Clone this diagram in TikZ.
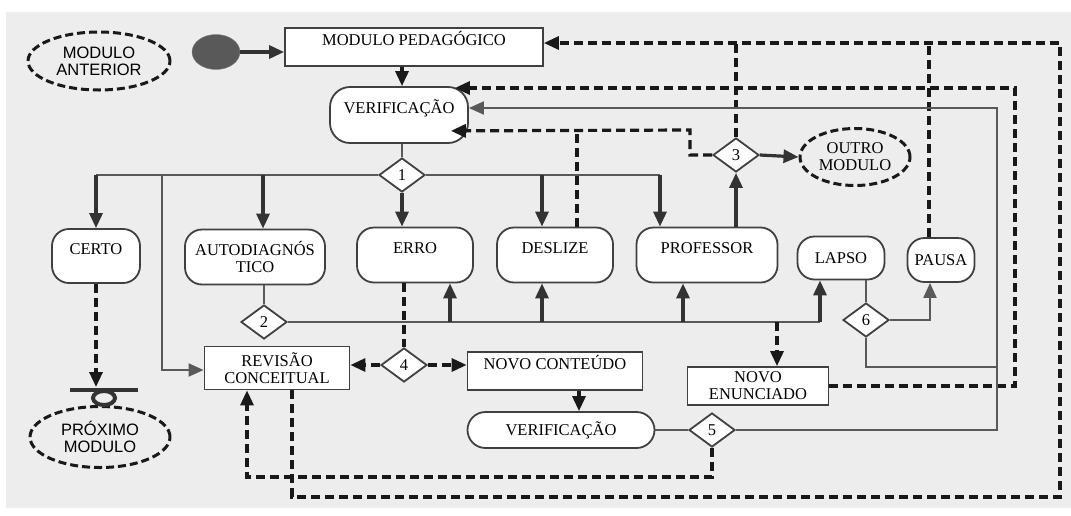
\documentclass[tikz,border=0pt]{standalone}
\usepackage{fontspec}
\setmainfont{Liberation Serif}
\setsansfont{Liberation Sans}
\usetikzlibrary{arrows.meta}
\usetikzlibrary{shapes.geometric,positioning}

\begin{document}
\begin{tikzpicture}[x=1pt, y=-1pt, font=\fontsize{16.5}{17}\selectfont]
    \tikzstyle{ponta} = [-{Triangle[length=15pt,width=13pt]}]
    \tikzstyle{seta} = [line width=3.2pt, black!80, ponta]
    \tikzstyle{tracejada} = [line width=3.2pt, black!90, dash pattern=on 9pt off 5pt]
    \tikzstyle{linha} = [line width=2pt, black!65]
    \tikzstyle{caixa} = [draw=black!75, line width=1.8pt, fill=white, align=center]
    \tikzstyle{arred} = [caixa, rounded corners=17pt]
    \tikzstyle{losango} = [caixa, diamond, aspect=1.35, inner sep=0pt, minimum width=46, minimum height=34]
    \tikzstyle{elipse} = [draw=black!90, line width=3pt, dash pattern=on 8pt off 4pt, ellipse, align=center, inner sep=0pt]
    \tikzstyle{sobe} = [text height=11pt, text depth=15pt]
    \tikzstyle{semserifa} = [font=\sffamily\fontsize{16.5}{17}\selectfont]

    \useasboundingbox (0,0) rectangle (1071,515);
    \fill[black!7] (6,12) rectangle (1071,508);

    % nos
    \node[elipse, semserifa, minimum width=142, minimum height=58] (anterior) at (99,61) {MODULO\\ANTERIOR};
    \node[ellipse, fill=black!65, draw=black!50, minimum width=48, minimum height=35, inner sep=0pt] (inicio) at (216,52) {};
    \node[caixa, sobe, minimum width=258, minimum height=38] (pedagogico) at (414,47) {MODULO PEDAGÓGICO};
    \node[arred, sobe, rounded corners=20pt, minimum width=138, minimum height=56] (verif) at (399,115) {VERIFICAÇÃO};
    \node[losango] (d1) at (402,175) {1};
    \node[arred, sobe, minimum width=88, minimum height=54] (certo) at (96,256) {CERTO};
    \node[arred, minimum width=140, minimum height=55] (auto) at (255,257) {AUTODIAGNÓS\\TICO};
    \node[arred, sobe, minimum width=116, minimum height=55] (erro) at (415,255) {ERRO};
    \node[arred, sobe, minimum width=116, minimum height=55] (deslize) at (555,255) {DESLIZE};
    \node[arred, sobe, minimum width=141, minimum height=55] (professor) at (707,255) {PROFESSOR};
    \node[arred, minimum width=87, minimum height=43] (lapso) at (841,258) {LAPSO};
    \node[arred, inner xsep=1pt, minimum width=67, minimum height=44] (pausa) at (941,260) {PAUSA};
    \node[losango] (d2) at (264,322) {2};
    \node[losango] (d3) at (736,155) {3};
    \node[elipse, minimum width=110, minimum height=57] (outro) at (855,157) {OUTRO\\MODULO};
    \node[losango] (d6) at (866,320) {6};
    \node[caixa, minimum width=145, minimum height=43] (revisao) at (277,368) {REVISÃO\\CONCEITUAL};
    \node[losango] (d4) at (404,365) {4};
    \node[caixa, sobe, minimum width=175, minimum height=38] (conteudo) at (555,371) {NOVO CONTEÚDO};
    \node[arred, rounded corners=18pt, minimum width=187, minimum height=36] (verif2) at (561,430) {VERIFICAÇÃO};
    \node[losango] (d5) at (712,430) {5};
    \node[caixa, minimum width=141, minimum height=38] (enunciado) at (758,386) {NOVO\\ENUNCIADO};
    \node[elipse, semserifa, minimum width=140, minimum height=61] (proximo) at (100,437) {PRÓXIMO\\MODULO};

    % conector de saida
    \coordinate (barra) at (104,390);
    \draw[line width=4.5pt, black!80] (70,390) -- (138,390);
    \draw[line width=4pt, black!80] (104,398) ellipse [x radius=11, y radius=7];

    % pontos de passagem
    \coordinate (r1) at (162,175);
    \coordinate (c1) at (1060,497);
    \coordinate (c2) at (1060,43);
    \coordinate (c3) at (1015,88);
    \coordinate (c4) at (997,108);
    \coordinate (c5) at (997,367);
    \coordinate (c6) at (690,130);

    % topo
    \draw[seta] (inicio.east) -- (inicio.east -| pedagogico.west);
    \draw[tracejada, ponta] (pedagogico.south -| d1) -- (verif.north -| d1);
    \draw[linha] (verif.south -| d1) -- (d1.north);

    % ramos do losango 1
    \draw[linha] (d1.west) -- (certo.north |- d1.west);
    \draw[linha] (d1.east) -- ([xshift=-47]professor.north |- d1.east);
    \draw[seta] (certo.north |- d1.west) -- (certo.north);
    \draw[seta] ([xshift=8]auto.north |- d1.west) -- ([xshift=8]auto.north);
    \draw[seta] (d1.south) -- (d1.south |- erro.north);
    \draw[seta] ([xshift=-13]deslize.north |- d1.east) -- ([xshift=-13]deslize.north);
    \draw[seta] ([xshift=-47]professor.north |- d1.east) -- ([xshift=-47]professor.north);
    \draw[linha, ponta] (r1) |- ([yshift=-2pt]revisao.west);

    % losango 2
    \draw[linha] (auto.south -| d2.north) -- (d2.north);
    \draw[linha] (d2.east) -- ([xshift=-21]lapso.south |- d2.east);
    \draw[seta] ([xshift=35]erro.south |- d2.east) -- ([xshift=35]erro.south);
    \draw[seta] ([xshift=-13]deslize.south |- d2.east) -- ([xshift=-13]deslize.south);
    \draw[seta] ([xshift=-24]professor.south |- d2.east) -- ([xshift=-24]professor.south);
    \draw[seta] ([xshift=-21]lapso.south |- d2.east) -- ([xshift=-21]lapso.south);
    \draw[tracejada, ponta] ([xshift=19]enunciado.north |- d2.east) -- ([xshift=19]enunciado.north);

    % erro e losango 4
    \draw[tracejada] (erro.south -| d4.north) -- (d4.north);
    \draw[tracejada, ponta] (d4.west) -- (d4.west -| revisao.east);
    \draw[tracejada, ponta] (d4.east) -- (d4.east -| conteudo.west);
    \draw[tracejada, ponta] ([xshift=24]conteudo.south) -- ([xshift=24]conteudo.south |- verif2.north);
    \draw[linha] (verif2.east) -- (d5.west);

    % retornos
    \draw[tracejada, ponta] (d5.south) -- ++(0,29) -| ([xshift=-30]revisao.south);
    \draw[tracejada, ponta] ([xshift=15]revisao.south) |- (c1) -- (c2) -- (c2 -| pedagogico.east);
    \draw[tracejada] (d3.north) -- (d3.north |- c2);
    \draw[tracejada] ([xshift=-12]pausa.north) -- ([xshift=-12]pausa.north |- c2);
    \draw[tracejada, ponta] (enunciado.east) -| (c3) -- ([xshift=-14]verif.north east |- c3);
    \draw[linha, ponta] (d5.east) -| (c4) -- (verif.east |- c4);
    \draw[linha] (d6.south) |- (c5);
    \draw[linha] (lapso.south -| d6.north) -- (d6.north);
    \draw[linha, ponta] (d6.east) -| ([xshift=-11]pausa.south);

    % losango 3
    \draw[seta] (d3.south |- professor.north) -- (d3.south);
    \draw[seta] (d3.east) -- (outro.west);
    \draw[tracejada] ([xshift=22]deslize.north) -- ([xshift=22]deslize.north |- c6);
    \draw[tracejada, ponta] (d3.west) -| (c6) -- ([shift={(-18,-13)}]verif.south east);

    % certo -> proximo modulo
    \draw[tracejada, ponta] (certo.south) -- ([yshift=3pt]certo.south |- barra);
\end{tikzpicture}
\end{document}
